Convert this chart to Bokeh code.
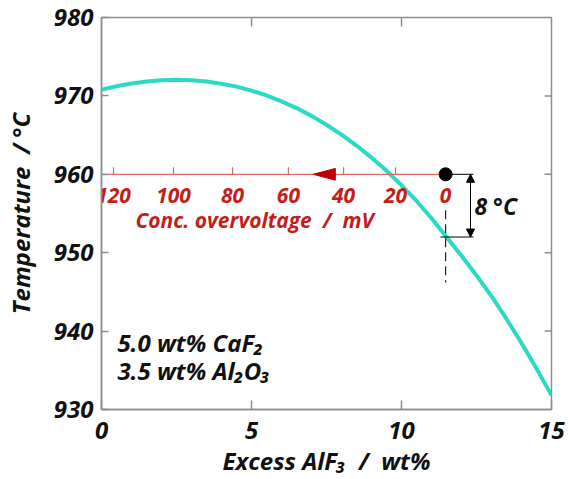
import numpy as np
from bokeh.plotting import figure
from bokeh.models import FixedTicker, LinearAxis, Arrow, NormalHead
from bokeh.core.properties import value
from bokeh.embed import file_html
from bokeh.resources import INLINE

# Liquidus curve: excess AlF3 (wt%) vs temperature (deg C)
alf3_wt = [0, 0.5, 1, 1.5, 2, 2.5, 3, 3.5, 4, 4.5, 5, 5.5, 6, 6.5, 7, 7.5,
           8, 8.5, 9, 9.5, 10, 10.5, 11, 11.5, 12, 12.5, 13, 13.5, 14, 14.5, 15]
liquidus_T = [970.8, 971.24, 971.59, 971.85, 972.0, 972.05, 972.0, 971.84, 971.56,
              971.18, 970.68, 970.06, 969.31, 968.45, 967.45, 966.32, 965.06,
              963.67, 962.13, 960.45, 958.6, 956.6, 954.4, 952.0, 949.6, 947.1,
              944.45, 941.55, 938.48, 935.22, 931.8]

# Concentration overvoltage scale (mV) and its position on the AlF3 axis
mv_ticks = [120, 100, 80, 60, 40, 20, 0]
mv_pos_wt = [0.4, 2.4, 4.37, 6.23, 8.07, 9.8, 11.47]
arrow_mv = [51, 43]          # tip, base of direction arrow
T_operating = 960.0          # operating temperature
dT = 8.0                     # superheat
dash_T = [955.4, 946.2]      # dashed guide line extent

x_ticks = [0, 5, 10, 15]
y_ticks = [930, 940, 950, 960, 970, 980]

FONT = "Open Sans"
RED = "#C41E1A"
CYAN = "#2AD9C6"
GRAY = "#8E8E8E"
INK = "#111111"

p = figure(width=569, height=479, x_range=(0, 15), y_range=(930, 980),
           output_backend="svg", toolbar_location=None,
           min_border_left=101, min_border_right=18, min_border_top=17,
           min_border_bottom=70, x_axis_location=None, y_axis_location=None)
p.grid.grid_line_color = None
p.outline_line_color = GRAY
p.outline_line_width = 1.5
p.background_fill_color = "white"

def style_axis(ax, ticks, tick_in):
    ax.ticker = FixedTicker(ticks=ticks)
    ax.axis_line_color = GRAY
    ax.axis_line_width = 1.5
    ax.major_tick_line_color = GRAY
    ax.major_tick_line_width = 1.5
    ax.major_tick_in = tick_in
    ax.major_tick_out = 0
    ax.minor_tick_line_color = None
    ax.major_label_text_font = FONT
    ax.major_label_text_font_style = "bold italic"
    ax.major_label_text_font_size = "24px"
    ax.major_label_text_color = INK
    ax.axis_label_text_font = FONT
    ax.axis_label_text_font_style = "bold italic"
    ax.axis_label_text_font_size = "24px"
    ax.axis_label_text_color = INK

NB = "\u00a0"
left = LinearAxis(axis_label=f"Temperature{NB}{NB}/{NB}°C")
style_axis(left, y_ticks, 7)
left.major_label_standoff = 8
left.axis_label_standoff = 14
p.add_layout(left, "left")

bottom = LinearAxis(axis_label=f"Excess AlF₃{NB}{NB}/{NB}{NB}wt%")
style_axis(bottom, x_ticks, 9)
bottom.major_label_standoff = 12
bottom.axis_label_standoff = 2
p.add_layout(bottom, "below")

# inward ticks on top and right frame edges
p.segment(x0=x_ticks[1:-1], y0=[y_ticks[-1]] * 2, x1=x_ticks[1:-1],
          y1=[y_ticks[-1] - 1.15] * 2, line_color=GRAY, line_width=1.5)
p.segment(x0=[x_ticks[-1]] * 4, y0=y_ticks[1:-1], x1=[x_ticks[-1] - 0.23] * 4,
          y1=y_ticks[1:-1], line_color=GRAY, line_width=1.5)

# liquidus curve
p.line(alf3_wt, liquidus_T, line_color=CYAN, line_width=4)

# overvoltage scale line
p.line([0, mv_pos_wt[-1]], [T_operating, T_operating], line_color="#E06A66", line_width=1.2)
p.segment(x0=mv_pos_wt[:-1], y0=[T_operating] * 6, x1=mv_pos_wt[:-1],
          y1=[T_operating + 0.9] * 6, line_color="#E06A66", line_width=1.2)
p.text(x=mv_pos_wt, y=[T_operating] * len(mv_ticks), text=[str(v) for v in mv_ticks],
       text_font=value(FONT), text_font_style="bold italic", text_font_size="21px",
       text_color=RED, text_align="center", text_baseline="middle", y_offset=21)
p.text(x=[1.13], y=[T_operating], text=[f"Conc.{NB}overvoltage{NB}{NB}/{NB}{NB}mV"],
       text_font=value(FONT), text_font_style="bold italic", text_font_size="21px",
       text_color=RED, text_align="left", text_baseline="middle", y_offset=46)

# direction arrow on the scale
ax_tip, ax_base = np.interp(arrow_mv, mv_ticks[::-1], mv_pos_wt[::-1])
p.patch([ax_tip, ax_base, ax_base],
        [T_operating, T_operating + 0.75, T_operating - 0.75],
        fill_color="#C00000", line_color="#C00000")

# operating point and superheat marker
x0 = mv_pos_wt[-1]
p.line([x0, x0], dash_T, line_color="#222222", line_width=1.2, line_dash="9 5")
p.line([x0, 12.4], [T_operating, T_operating], line_color="black", line_width=1)
p.line([x0 - 0.17, 12.4], [T_operating - dT, T_operating - dT], line_color="black", line_width=1)
p.add_layout(Arrow(x_start=12.3, y_start=T_operating, x_end=12.3, y_end=T_operating - dT,
                   line_color="black", line_width=1,
                   start=NormalHead(size=8, fill_color="black", line_color="black"),
                   end=NormalHead(size=8, fill_color="black", line_color="black")))
p.scatter([x0], [T_operating], size=13, fill_color="black", line_color="black")
p.text(x=[12.43], y=[T_operating - dT / 2], text=[f"8{NB}°C"],
       text_font=value(FONT), text_font_style="bold italic", text_font_size="23px",
       text_color=INK, text_align="left", text_baseline="middle")

# composition annotation
p.text(x=[0.53, 0.53], y=[938.5, 935.0], text=["5.0 wt% CaF₂", "3.5 wt% Al₂O₃"],
       text_font=value(FONT), text_font_style="bold italic", text_font_size="24px",
       text_color=INK, text_align="left", text_baseline="middle")

open("out.html", "w").write(file_html(p, INLINE))
